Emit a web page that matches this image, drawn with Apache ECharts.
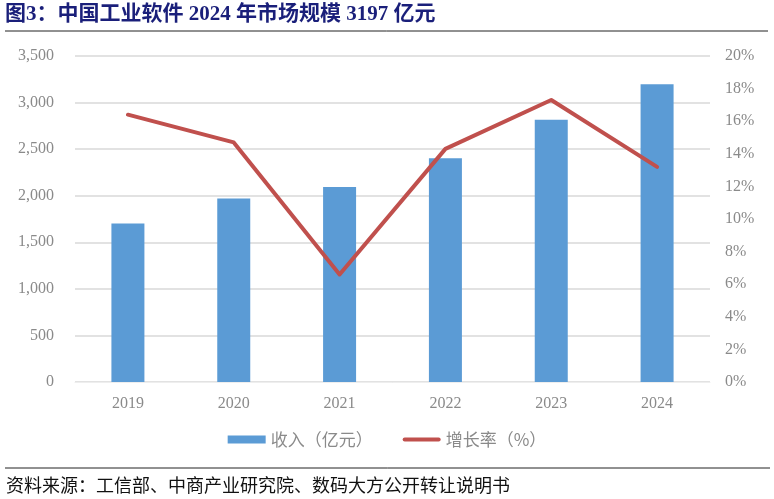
<!DOCTYPE html>
<html>
<head>
<meta charset="utf-8">
<script src="https://cdn.jsdelivr.net/npm/echarts@6/dist/echarts.min.js"></script>
<style>
  html, body { margin: 0; padding: 0; background: #fff; }
  #chart { width: 774px; height: 499px; }
</style>
</head>
<body>
<div id="chart"></div>
<script>
// data
var years = ['2019', '2020', '2021', '2022', '2023', '2024'];
var revenue = [1703, 1969, 2094, 2403, 2816, 3197];
var growth = [16.4, 14.7, 6.6, 14.3, 17.3, 13.2];

var labelFont = '"Liberation Serif", "Noto Sans CJK SC", serif';
var gray = '#8a8a8a';

var myChart = echarts.init(document.getElementById('chart'));

var option = {
    backgroundColor: '#fff',
    animation: false,
    graphic: [
        {
            type: 'text', left: 5, top: 4,
            style: {
                text: '图3：中国工业软件 2024 年市场规模 3197 亿元',
                font: 'bold 21px "Liberation Serif", "Noto Sans CJK SC", serif',
                fill: '#1a1f7a'
            }
        },
        {
            type: 'line',
            shape: { x1: 5, y1: 31, x2: 768, y2: 31 },
            style: { stroke: '#222', lineWidth: 1 }
        },
        {
            type: 'line',
            shape: { x1: 5, y1: 468, x2: 770, y2: 468 },
            style: { stroke: '#222', lineWidth: 1 }
        },
        {
            type: 'text', left: 6, top: 476,
            style: {
                text: '资料来源：工信部、中商产业研究院、数码大方公开转让说明书',
                font: '18px "Noto Sans CJK SC", sans-serif',
                fill: '#111'
            }
        }
    ],
    legend: {
        bottom: 46,
        left: 'center',
        itemGap: 30,
        itemWidth: 38,
        itemHeight: 8,
        textStyle: { color: gray, fontSize: 17, fontFamily: '"Noto Sans CJK SC", sans-serif' },
        data: [
            { name: '收入（亿元）', icon: 'rect' },
            { name: '增长率（%）', icon: 'path://M2,0 L36,0 A2,2 0 0 1 36,4 L2,4 A2,2 0 0 1 2,0 Z' }
        ]
    },
    grid: { left: 75, right: 64, top: 56, bottom: 117 },
    xAxis: {
        type: 'category',
        data: years,
        axisTick: { show: false },
        axisLine: { lineStyle: { color: '#eeeeee' } },
        axisLabel: { color: gray, fontSize: 16, fontFamily: labelFont, margin: 14 }
    },
    yAxis: [
        {
            type: 'value', min: 0, max: 3500, interval: 500,
            axisLabel: {
                color: gray, fontSize: 16, fontFamily: labelFont, margin: 21,
                formatter: function (v) { return v.toLocaleString('en-US'); }
            },
            splitLine: { lineStyle: { color: '#d9d9d9', width: 1.5 } }
        },
        {
            type: 'value', min: 0, max: 20, interval: 2,
            axisLabel: { color: gray, fontSize: 16, fontFamily: labelFont, margin: 15, formatter: '{value}%' },
            splitLine: { show: false }
        }
    ],
    series: [
        {
            name: '收入（亿元）',
            type: 'bar',
            data: revenue,
            barWidth: 33,
            itemStyle: { color: '#5b9bd5' }
        },
        {
            name: '增长率（%）',
            type: 'line',
            yAxisIndex: 1,
            data: growth,
            symbol: 'none',
            lineStyle: { color: '#c0504d', width: 4, cap: 'round', join: 'round' },
            itemStyle: { color: '#c0504d' }
        }
    ]
};

myChart.setOption(option);
</script>
</body>
</html>
